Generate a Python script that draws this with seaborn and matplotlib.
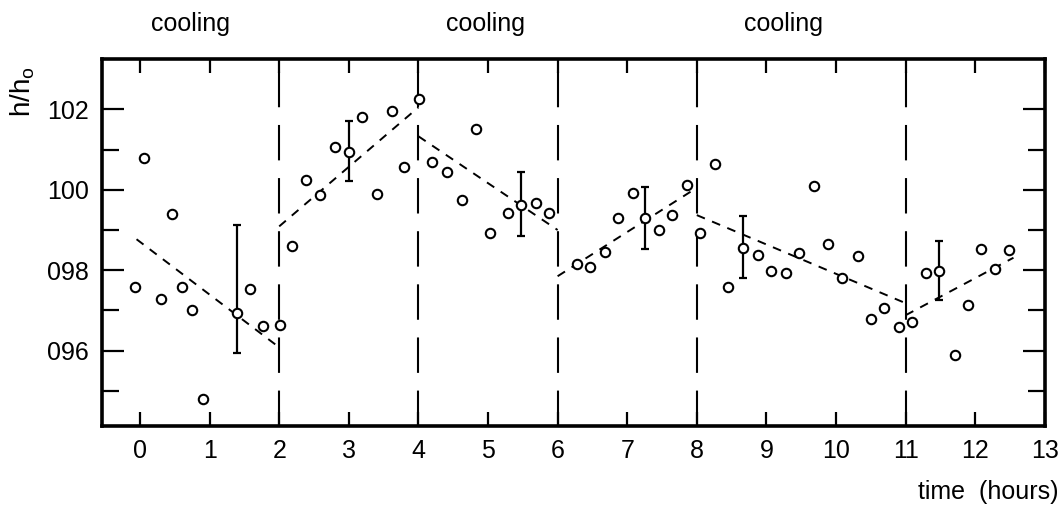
import numpy as np
import pandas as pd
import matplotlib
matplotlib.use("Agg")
import matplotlib.pyplot as plt
import matplotlib.transforms as mtransforms
import seaborn as sns

# measured points (time in hours, h/h0)
t_pts = [-0.07, 0.06, 0.30, 0.46, 0.61, 0.75, 0.91, 1.39, 1.58, 1.77, 2.01, 2.18, 2.38, 2.59, 2.80, 3.00,
         3.19, 3.40, 3.62, 3.79, 4.01, 4.20, 4.41, 4.62, 4.83, 5.03, 5.29, 5.48, 5.69, 5.88, 6.28, 6.47,
         6.68, 6.87, 7.09, 7.26, 7.46, 7.65, 7.86, 8.05, 8.26, 8.45, 8.66, 8.88, 9.07, 9.28, 9.47, 9.68,
         9.89, 10.09, 10.31, 10.50, 10.69, 10.91, 11.09, 11.29, 11.48, 11.71, 11.89, 12.09, 12.28, 12.49]
h_pts = [0.9758, 1.0078, 0.9729, 0.9940, 0.9758, 0.9700, 0.9479, 0.9694, 0.9752, 0.9662, 0.9664, 0.9860,
         1.0025, 0.9988, 1.0107, 1.0095, 1.0180, 0.9989, 1.0196, 1.0056, 1.0225, 1.0068, 1.0043, 0.9974,
         1.0152, 0.9892, 0.9943, 0.9962, 0.9968, 0.9941, 0.9816, 0.9807, 0.9845, 0.9931, 0.9992, 0.9931,
         0.9900, 0.9938, 1.0013, 0.9892, 1.0064, 0.9757, 0.9854, 0.9837, 0.9798, 0.9793, 0.9843, 1.0010,
         0.9864, 0.9780, 0.9835, 0.9678, 0.9707, 0.9658, 0.9670, 0.9794, 0.9798, 0.9588, 0.9713, 0.9853,
         0.9804, 0.9851]

# error bars
err_t = [1.39, 3.00, 5.48, 7.26, 8.66, 11.48]
err_h = [0.9694, 1.0095, 0.9962, 0.9931, 0.9854, 0.9798]
err_top = [0.9913, 1.0172, 1.0043, 1.0008, 0.9936, 0.9872]
err_bot = [0.9594, 1.0021, 0.9884, 0.9853, 0.9780, 0.9725]

# dashed fit segments
seg_t0 = [-0.05, 2.0, 4.0, 6.0, 8.0, 11.0]
seg_t1 = [1.97, 4.0, 6.0, 8.0, 11.0, 12.55]
seg_h0 = [0.9877, 0.9909, 1.0133, 0.9785, 0.9937, 0.9688]
seg_h1 = [0.9612, 1.0205, 0.9900, 1.0005, 0.9718, 0.9831]

switch_t = [2, 4, 6, 8, 11]
cooling_t = [0.72, 4.96, 9.24]

x_ticks = list(range(0, 14))
y_major = [0.96, 0.98, 1.00, 1.02]
y_labels = ["096", "098", "100", "102"]
y_minor = [0.95, 0.97, 0.99, 1.01]

sns.set_style("ticks", {'axes.edgecolor': 'black', 'text.color': 'black',
                        'xtick.color': 'black', 'ytick.color': 'black'})
plt.rcParams['font.family'] = ['Liberation Sans', 'DejaVu Sans']
plt.rcParams['mathtext.fontset'] = 'custom'
plt.rcParams['mathtext.rm'] = 'Liberation Sans'

fig = plt.figure(figsize=(10.62, 5.05), dpi=100)
ax = fig.add_axes([0.0958, 0.156, 0.888, 0.727])

for x in switch_t:
    ax.axvline(x, color='black', lw=1.5, dashes=(17, 8.5))

for a, b, c, d in zip(seg_t0, seg_t1, seg_h0, seg_h1):
    ax.plot([a, b], [c, d], color='black', lw=1.4, dashes=(4.5, 4))

ax.errorbar(err_t, err_h,
            yerr=[np.array(err_h) - np.array(err_bot), np.array(err_top) - np.array(err_h)],
            fmt='none', ecolor='black', elinewidth=1.6, capsize=3, capthick=1.6)

df = pd.DataFrame({'time': t_pts, 'h': h_pts})
sns.scatterplot(data=df, x='time', y='h', ax=ax, marker='o', s=46,
                facecolors='white', edgecolor='black', linewidth=1.5, zorder=5)

ax.set_xlim(-0.55, 13)
ax.set_ylim(0.9412, 1.0325)
ax.set_xticks(x_ticks)
ax.set_xticklabels([str(v) for v in x_ticks])
ax.set_yticks(y_major)
ax.set_yticklabels(y_labels)
ax.set_yticks(y_minor, minor=True)
ax.tick_params(axis='both', which='major', direction='in', top=True, right=True,
               length=10, width=1.6, labelsize=18, pad=9, colors='black')
ax.tick_params(axis='y', which='major', length=16)
ax.tick_params(axis='y', which='minor', direction='in', right=True, length=12, width=1.6, colors='black')
ax.set_xlabel('')
ax.set_ylabel('')
for sp in ax.spines.values():
    sp.set_linewidth(2.6)
    sp.set_color('black')

trans = mtransforms.blended_transform_factory(ax.transData, ax.transAxes)
for x in cooling_t:
    ax.text(x, 1.095, 'cooling', transform=trans, ha='center', va='center', fontsize=18, color='black')

fig.text(23 / 1062, 1 - 92 / 505, 'h/h$_{\\rm o}$', rotation=90, ha='center', va='center',
         fontsize=20, color='black')
fig.text(1058 / 1062, 1 - 492 / 505, 'time  (hours)', ha='right', va='center', fontsize=18, color='black')

fig.savefig('out.png', dpi=100)
